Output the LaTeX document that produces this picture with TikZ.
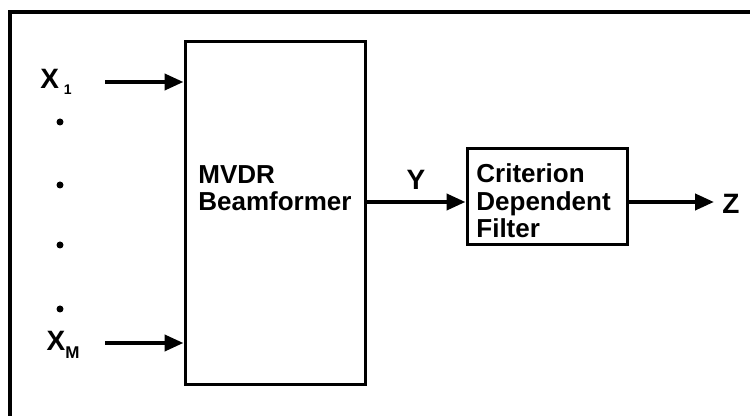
\documentclass[tikz,border=0pt]{standalone}
\usepackage{fontspec}
\setmainfont{Liberation Sans}
\usetikzlibrary{arrows.meta}
\begin{document}
\begin{tikzpicture}[x=0.5pt,y=-0.5pt,
  blk/.style={draw,line width=1.5pt,inner sep=0pt},
  sig/.style={line width=2pt,-{Triangle[length=9.5pt,width=8pt]}},
  lbl/.style={font=\fontsize{13}{13.75}\selectfont\bfseries,inner sep=0pt},
  big/.style={font=\fontsize{14}{16}\selectfont\bfseries,inner sep=0pt},
  dotc/.style={circle,fill,inner sep=0pt,minimum size=3.5pt}]
\useasboundingbox (0,0) rectangle (750,416);
% outer frame (right and bottom lie outside the picture)
\coordinate (fbl) at (10,418);
\coordinate (ftl) at (10,12);
\coordinate (ftr) at (752,12);
\draw[line width=1.8pt] (fbl) -- (ftl) -- (ftr);
% blocks
\node[blk,minimum width=90pt,minimum height=171.5pt] (mvdr) at (275,213.5) {};
\node[blk,minimum width=80pt,minimum height=48pt] (filt) at (547,197) {};
\node[lbl,anchor=west,align=left] (mvdrt) at (198,188) {MVDR\\Beamformer};
\node[lbl,anchor=west,align=left] (filtt) at (476,201) {Criterion\\Dependent\\Filter};
% inputs
\node[big] (x1) at (56,82) {X\,\raisebox{-0.4ex}{\fontsize{7}{8}\selectfont 1}};
\node[big] (xm) at (63,345) {X\raisebox{-0.5ex}{\fontsize{8.5}{9}\selectfont M}};
\coordinate (x1s) at (105,82);
\coordinate (xms) at (105,343);
\draw[sig] (x1s) -- (x1s -| mvdr.west);
\draw[sig] (xms) -- (xms -| mvdr.west);
\node[dotc] (d1) at (60,122) {};
\node[dotc] (d2) at (60,185) {};
\node[dotc] (d3) at (60,245) {};
\node[dotc] (d4) at (60,309) {};
% output chain
\coordinate (ys) at (mvdr.east |- 0,202);
\draw[sig] (ys) -- (ys -| filt.west);
\node[big] (ylab) at (416,180) {Y};
\coordinate (zs) at (filt.east |- 0,202);
\coordinate (ze) at (714,202);
\draw[sig] (zs) -- (ze);
\node[big] (zlab) at (731,204) {Z};
\end{tikzpicture}
\end{document}
